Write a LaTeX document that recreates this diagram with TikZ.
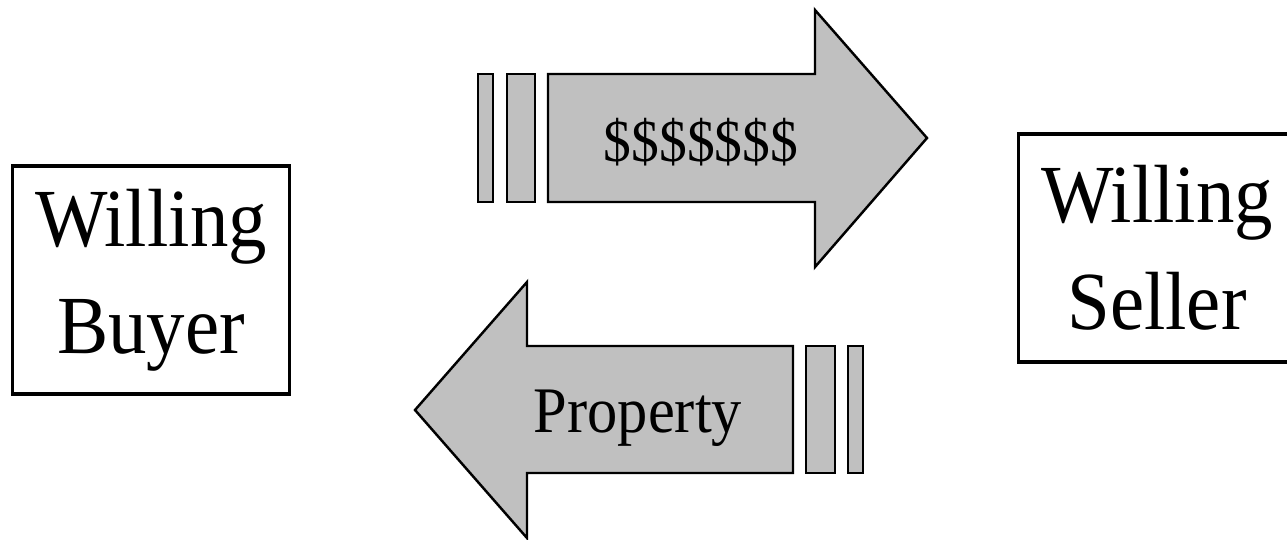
\documentclass[tikz,border=0pt]{standalone}
\usepackage{fontspec}
\setmainfont{Liberation Serif}[FakeStretch=0.93]
\usepackage{tikz}
\usetikzlibrary{positioning}
\definecolor{silver}{RGB}{192,192,192}

\begin{document}
\begin{tikzpicture}[
  x=0.02cm, y=-0.02cm,
  party/.style={draw, line width=2pt, minimum width=5.54cm, minimum height=4.56cm, align=center, font=\fontsize{47}{61}\selectfont},
  flow/.style={draw, line width=1.4pt, fill=silver, line join=miter},
  lbl/.style={inner sep=0pt}
]
  \useasboundingbox (0,0) rectangle (1287,539);
  \clip (0,0) rectangle (1287,539);

  \node[party] (buyer) at (151,280) {Willing\\Buyer};
  \node[party] (seller) at (1157,248) {Willing\\Seller};

  % money goes to the seller
  \draw[flow] (478,74) rectangle (493,202);
  \draw[flow] (507,74) rectangle (535,202);
  \draw[flow] (548,74) -- (815,74) -- (815,10) -- (927,138) -- (815,267) -- (815,202) -- (548,202) -- cycle;
  \node[lbl, font=\fontsize{34}{40}\selectfont] (money) at (701,142) {\$\$\$\$\$\$\$};

  % property goes to the buyer
  \draw[flow] (806,346) rectangle (835,473);
  \draw[flow] (848,346) rectangle (863,473);
  \draw[flow] (793,346) -- (527,346) -- (527,282) -- (415,410) -- (527,538) -- (527,473) -- (793,473) -- cycle;
  \node[lbl, font=\fontsize{37}{44}\selectfont] (property) at (638,418) {Property};
\end{tikzpicture}
\end{document}
